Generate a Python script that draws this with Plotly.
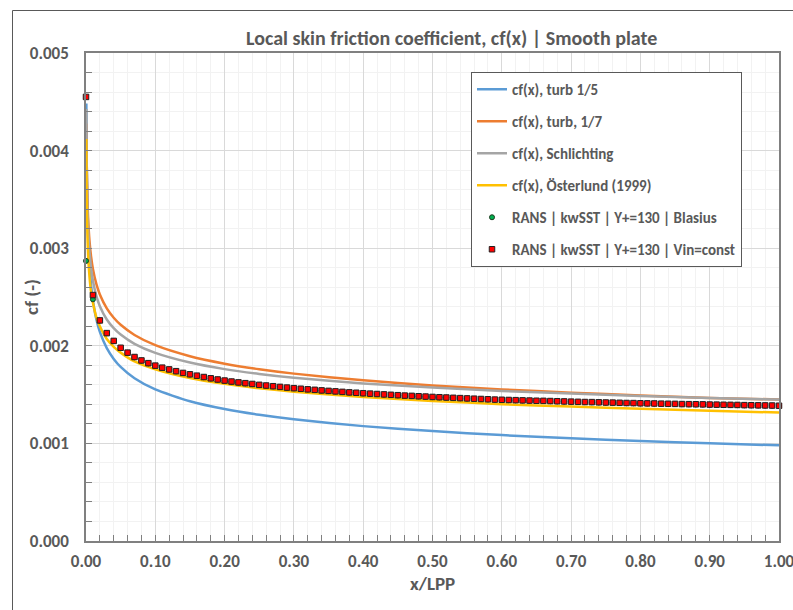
import plotly.graph_objects as go

# ---------------- data ----------------
x_line = [0.0005, 0.001, 0.002, 0.003, 0.005, 0.0075, 0.01, 0.015, 0.02, 0.03, 0.04,
          0.05, 0.07, 0.1, 0.15, 0.2, 0.25, 0.3, 0.4, 0.5, 0.6, 0.7, 0.8, 0.9, 1.0]

cf_turb_15 = [0.004482, 0.003902, 0.003397, 0.003132, 0.002828, 0.002608, 0.002462, 0.002270,
              0.002143, 0.001976, 0.001866, 0.001784, 0.001668, 0.001553, 0.001432, 0.001352,
              0.001293, 0.001247, 0.001177, 0.001126, 0.001085, 0.001052, 0.001025, 0.001001, 0.000980]

cf_turb_17 = [0.004277, 0.003874, 0.003509, 0.003311, 0.003078, 0.002905, 0.002788, 0.002631,
              0.002525, 0.002383, 0.002287, 0.002215, 0.002111, 0.002006, 0.001893, 0.001817,
              0.001760, 0.001715, 0.001646, 0.001594, 0.001553, 0.001520, 0.001491, 0.001466, 0.001450]

cf_schlichting = [0.004426, 0.003895, 0.003451, 0.003227, 0.002970, 0.002786, 0.002667, 0.002509,
                  0.002406, 0.002270, 0.002181, 0.002115, 0.002020, 0.001927, 0.001828, 0.001761,
                  0.001712, 0.001673, 0.001615, 0.001572, 0.001538, 0.001510, 0.001486, 0.001466, 0.001449]

cf_osterlund = [0.004120, 0.003550, 0.003150, 0.002940, 0.002710, 0.002540, 0.002440, 0.002290,
                0.002200, 0.002070, 0.001990, 0.001930, 0.001840, 0.001760, 0.001670, 0.001610,
                0.001565, 0.001530, 0.001475, 0.001435, 0.001402, 0.001377, 0.001355, 0.001335, 0.001316]

x_rans = [i / 100 for i in range(101)]

cf_rans_vin = [0.004550, 0.002520, 0.002260, 0.002130, 0.002050, 0.001980, 0.001930, 0.001885,
               0.001850, 0.001822, 0.001797, 0.001776, 0.001758, 0.001740, 0.001722, 0.001708,
               0.001694, 0.001680, 0.001667, 0.001655, 0.001644, 0.001634, 0.001625, 0.001617,
               0.001609, 0.001600, 0.001593, 0.001586, 0.001579, 0.001572, 0.001566, 0.001560,
               0.001554, 0.001549, 0.001543, 0.001538, 0.001533, 0.001528, 0.001523, 0.001519,
               0.001514, 0.001510, 0.001506, 0.001502, 0.001498, 0.001494, 0.001490, 0.001487,
               0.001483, 0.001480, 0.001476, 0.001473, 0.001470, 0.001467, 0.001464, 0.001461,
               0.001458, 0.001455, 0.001452, 0.001449, 0.001447, 0.001445, 0.001443, 0.001441,
               0.001439, 0.001437, 0.001436, 0.001434, 0.001432, 0.001430, 0.001428, 0.001426,
               0.001424, 0.001423, 0.001421, 0.001419, 0.001418, 0.001416, 0.001414, 0.001413,
               0.001411, 0.001410, 0.001409, 0.001407, 0.001406, 0.001405, 0.001403, 0.001402,
               0.001401, 0.001400, 0.001398, 0.001397, 0.001396, 0.001395, 0.001394, 0.001392,
               0.001391, 0.001390, 0.001389, 0.001388, 0.001386]

cf_rans_blasius = [0.002870, 0.002476, 0.002258, 0.002128, 0.002048, 0.001978, 0.001928, 0.001883,
                   0.001848, 0.001820, 0.001795, 0.001774, 0.001756, 0.001738, 0.001720, 0.001706,
                   0.001692, 0.001678, 0.001665, 0.001653, 0.001642, 0.001632, 0.001623, 0.001615,
                   0.001607, 0.001598, 0.001591, 0.001584, 0.001577, 0.001570, 0.001564, 0.001558,
                   0.001552, 0.001547, 0.001541, 0.001536, 0.001531, 0.001526, 0.001521, 0.001517,
                   0.001512, 0.001508, 0.001504, 0.001500, 0.001496, 0.001492, 0.001488, 0.001485,
                   0.001481, 0.001478, 0.001474, 0.001471, 0.001468, 0.001465, 0.001462, 0.001459,
                   0.001456, 0.001453, 0.001450, 0.001447, 0.001445, 0.001443, 0.001441, 0.001439,
                   0.001437, 0.001435, 0.001434, 0.001432, 0.001430, 0.001428, 0.001426, 0.001424,
                   0.001422, 0.001421, 0.001419, 0.001417, 0.001416, 0.001414, 0.001412, 0.001411,
                   0.001409, 0.001408, 0.001407, 0.001405, 0.001404, 0.001403, 0.001401, 0.001400,
                   0.001399, 0.001398, 0.001396, 0.001395, 0.001394, 0.001393, 0.001392, 0.001390,
                   0.001389, 0.001388, 0.001387, 0.001386, 0.001384]

names = ["cf(x), turb 1/5", "cf(x), turb, 1/7", "cf(x), Schlichting", "cf(x), Österlund (1999)",
         "RANS | kwSST | Y+=130 | Blasius", "RANS | kwSST | Y+=130 | Vin=const"]

title_text = "Local skin friction coefficient, cf(x) | Smooth plate"
x_title = "x/LPP"
y_title = "cf (-)"

# ---------------- figure ----------------
FONT = "Carlito, Lato, 'Open Sans', sans-serif"
GREY_TXT = "#595959"

fig = go.Figure()
line_series = [(cf_turb_15, "#5B9BD5"), (cf_turb_17, "#ED7D31"),
               (cf_schlichting, "#A5A5A5"), (cf_osterlund, "#FFC000")]
for i, (vals, col) in enumerate(line_series):
    fig.add_trace(go.Scatter(x=x_line, y=vals, mode="lines", name=names[i],
                             line=dict(color=col, width=2.5, shape="spline", smoothing=0.6),
                             legendgroup=f"g{i}"))

fig.add_trace(go.Scatter(x=x_rans, y=cf_rans_blasius, mode="markers", name=names[4],
                         marker=dict(symbol="circle", size=5, color="#00B050",
                                     line=dict(color="#1f3a1f", width=1)),
                         cliponaxis=False, legendgroup="g4"))
fig.add_trace(go.Scatter(x=x_rans, y=cf_rans_vin, mode="markers", name=names[5],
                         marker=dict(symbol="square", size=5.5, color="#FF0000",
                                     line=dict(color="#222222", width=1)),
                         cliponaxis=False, legendgroup="g5"))

L, R, T, B = 86, 14, 53, 69
PW, PH = 793 - L - R, 610 - T - B

def px(xp):
    return (xp - L) / PW

def py(yp):
    return (T + PH - yp) / PH

axis_common = dict(showline=True, linecolor="#808080", linewidth=1.5, mirror=True,
                   showgrid=True, gridcolor="#D9D9D9", gridwidth=1,
                   ticks="inside", ticklen=6, tickcolor="#808080", tickwidth=1,
                   tickfont=dict(family=FONT, size=17, color=GREY_TXT, weight="bold"),
                   zeroline=False, automargin=False, ticklabeloverflow="allow")

fig.update_xaxes(range=[0, 1], dtick=0.1, tick0=0, tickformat=".2f", ticklabelstandoff=4,
                 minor=dict(dtick=0.02, showgrid=True, gridcolor="#F2F2F2",
                            ticks="inside", ticklen=6, tickcolor="#808080"),
                 **axis_common)
fig.update_yaxes(range=[0, 0.005], dtick=0.001, tick0=0, tickformat=".3f", ticklabelstandoff=12,
                 minor=dict(dtick=0.0002, showgrid=True, gridcolor="#F2F2F2",
                            ticks="inside", ticklen=6, tickcolor="#808080"),
                 **axis_common)

fig.update_layout(
    width=793, height=610,
    margin=dict(l=L, r=R, t=T, b=B),
    paper_bgcolor="white", plot_bgcolor="white",
    showlegend=True,
    legend=dict(x=px(471), y=py(72), xanchor="left", yanchor="top",
                bgcolor="white", bordercolor="#595959", borderwidth=1,
                font=dict(family=FONT, size=15, color=GREY_TXT, weight="bold"),
                traceorder="grouped", tracegroupgap=9.5, itemwidth=30),
    annotations=[
        dict(text=title_text, x=px(451), y=py(38), xref="paper", yref="paper",
             showarrow=False, xanchor="center", yanchor="middle",
             font=dict(family=FONT, size=20, color=GREY_TXT, weight="bold")),
        dict(text=x_title, x=px(432), y=py(583), xref="paper", yref="paper",
             showarrow=False, xanchor="center", yanchor="middle",
             font=dict(family=FONT, size=19, color=GREY_TXT, weight="bold")),
        dict(text=y_title, x=px(31), y=py(297), xref="paper", yref="paper",
             showarrow=False, xanchor="center", yanchor="middle", textangle=-90,
             font=dict(family=FONT, size=19, color=GREY_TXT, weight="bold")),
    ],
    shapes=[dict(type="rect", xref="paper", yref="paper",
                 x0=px(12.5), x1=px(820), y0=py(640), y1=py(10.5),
                 line=dict(color="#595959", width=1), fillcolor="rgba(0,0,0,0)", layer="below")],
)

fig.write_html("out.html", config={"displayModeBar": False},
               post_script="document.body.style.margin='0px';")
